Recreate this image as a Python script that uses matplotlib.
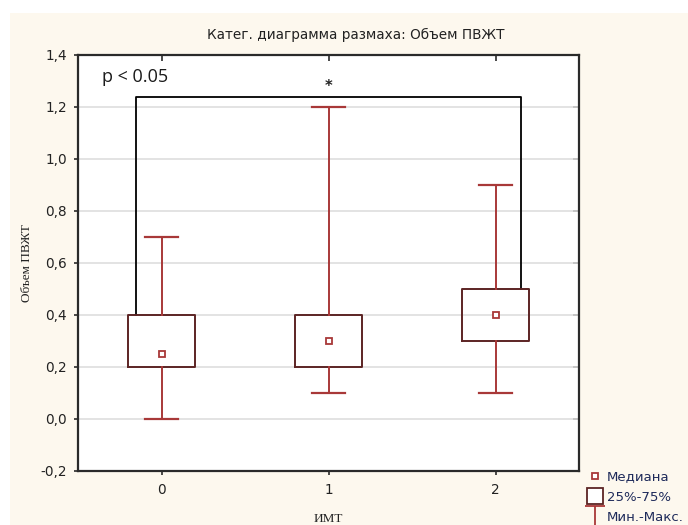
import matplotlib
matplotlib.use("Agg")
import matplotlib.pyplot as plt
from matplotlib.patches import Rectangle
from matplotlib.lines import Line2D
from matplotlib.path import Path
from matplotlib.ticker import FuncFormatter

# ---- data ----
categories = ["0", "1", "2"]
mins = [0.0, 0.1, 0.1]
q1s = [0.2, 0.2, 0.3]
medians = [0.25, 0.3, 0.4]
q3s = [0.4, 0.4, 0.5]
maxs = [0.7, 1.2, 0.9]
y_ticks = [-0.2, 0.0, 0.2, 0.4, 0.6, 0.8, 1.0, 1.2, 1.4]
bracket_from, bracket_to, bracket_level = 0, 2, 1.24

title = "Катег. диаграмма размаха: Объем ПВЖТ"
ylabel = "Объем ПВЖТ"
xlabel = "ИМТ"
legend_labels = ["Медиана", "25%-75%", "Мин.-Макс."]

# ---- style ----
cream = "#FDF8EE"
whisk_col = "#A83838"
box_col = "#5C2424"
text_col = "#1E2A5A"
sans = "DejaVu Sans"

W, H = 688, 525
fig = plt.figure(figsize=(W / 100, H / 100), dpi=100)
fig.patch.set_facecolor("white")
fig.patches.append(Rectangle((10 / W, 0), 1 - 10 / W, 1 - 13 / H,
                             transform=fig.transFigure, facecolor=cream,
                             edgecolor="none", zorder=-10))

ax = fig.add_axes([78 / W, 1 - 471 / H, (579 - 78) / W, (471 - 55) / H])
ax.set_facecolor("white")

pos = list(range(len(categories)))
stats = [dict(med=m, q1=a, q3=b, whislo=lo, whishi=hi, fliers=[])
         for m, a, b, lo, hi in zip(medians, q1s, q3s, mins, maxs)]
ax.bxp(stats, positions=pos, widths=0.4, capwidths=0.2, showfliers=False,
       patch_artist=False,
       boxprops=dict(color=box_col, linewidth=1.4),
       whiskerprops=dict(color=whisk_col, linewidth=1.4),
       capprops=dict(color=whisk_col, linewidth=1.6),
       medianprops=dict(visible=False), zorder=3)
ax.plot(pos, medians, linestyle="none", marker="s", markersize=5,
        markerfacecolor="white", markeredgecolor=whisk_col,
        markeredgewidth=1.3, zorder=4)

# significance bracket
xl = bracket_from - 0.15
xr = bracket_to + 0.15
ax.plot([xl, xl, xr, xr],
        [q3s[bracket_from], bracket_level, bracket_level, q3s[bracket_to]],
        color="black", linewidth=1.3, zorder=2)
ax.text((bracket_from + bracket_to) / 2, bracket_level + 0.04, "*",
        ha="center", va="center", fontsize=10.5, fontweight="bold",
        color="#222222", family=sans)
ax.text(-0.355, 1.315, "p < 0.05", ha="left", va="center", fontsize=13,
        family="Open Sans", color="#1a1a1a")

ax.set_xlim(-0.5, 2.5)
ax.set_ylim(-0.2, 1.4)
ax.set_xticks(pos)
ax.set_xticklabels(categories)
ax.set_yticks(y_ticks)
ax.yaxis.set_major_formatter(FuncFormatter(lambda v, p: f"{v:.1f}".replace(".", ",")))
ax.grid(axis="y", color="#DEDEDE", linewidth=1.2, zorder=0)
ax.set_axisbelow(True)
for s in ax.spines.values():
    s.set_color("#2a2a2a")
    s.set_linewidth(1.6)
ax.tick_params(axis="both", direction="out", length=3, width=1.2,
               color="#2a2a2a", labelsize=9.8, labelcolor="#222222",
               labelfontfamily=sans)
ax.tick_params(axis="x", pad=6)
ax.tick_params(axis="y", pad=5)

secx = ax.secondary_xaxis("top")
secx.set_xticks(pos)
secx.tick_params(direction="in", length=4, width=1.2, color="#2a2a2a",
                 labeltop=False)
secy = ax.secondary_yaxis("right")
secy.set_yticks(y_ticks)
secy.tick_params(direction="in", length=4, width=1.2, color="#2a2a2a",
                 labelright=False)
for sa in (secx, secy):
    for s in sa.spines.values():
        s.set_visible(False)

fig.text(356 / W, 1 - 35 / H, title, ha="center", va="center",
         fontsize=9.8, family=sans, color="#222222")
ax.set_ylabel(ylabel, fontsize=9.5, family="Liberation Serif", color="#222222",
              labelpad=5)
ax.set_xlabel(xlabel, fontsize=9.5, family="Liberation Serif", color="#222222",
              labelpad=11)

# legend
ibeam = Path([(-1, 1), (1, 1), (0, 1), (0, -1), (-1, -1), (1, -1)],
             [Path.MOVETO, Path.LINETO, Path.MOVETO, Path.LINETO,
              Path.MOVETO, Path.LINETO])
handles = [
    Line2D([], [], linestyle="none", marker="s", markersize=5,
           markerfacecolor="white", markeredgecolor=whisk_col, markeredgewidth=1.3),
    Line2D([], [], linestyle="none", marker="s", markersize=11,
           markerfacecolor="white", markeredgecolor=box_col, markeredgewidth=1.3),
    Line2D([], [], linestyle="none", marker=ibeam, markersize=14,
           markerfacecolor="none", markeredgecolor=whisk_col, markeredgewidth=1.3),
]
leg = fig.legend(handles, legend_labels, loc="upper left",
                 bbox_to_anchor=(582 / W, 1 - 464 / H), frameon=False,
                 handlelength=1.0, handletextpad=0.4, labelspacing=0.55,
                 borderpad=0, prop=dict(family=sans, size=9.5))
for t in leg.get_texts():
    t.set_color(text_col)

fig.savefig("out.png", dpi=100, facecolor=fig.get_facecolor())
